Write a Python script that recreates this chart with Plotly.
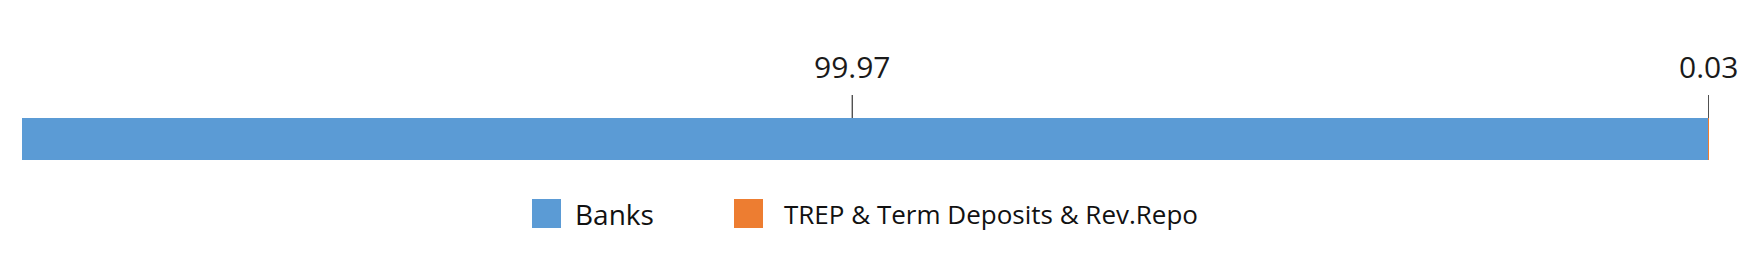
import plotly.graph_objects as go

# Data
categories = ["Banks", "TREP & Term Deposits & Rev.Repo"]
values = [99.97, 0.03]
colors = ["#5B9BD5", "#ED7D31"]
label_xshift = [-13, 0]
legend_font_sizes = [28, 26]

W, H = 1746, 260
ML, MR, MT, MB = 22, 37, 118, 100
PW = W - ML - MR
PH = H - MT - MB

def px_x(p):
    return (p - ML) / PW

def px_y(p):
    return (H - MB - p) / PH

fig = go.Figure()
for name, v, c in zip(categories, values, colors):
    fig.add_trace(go.Bar(
        x=[v], y=[""], orientation="h", name=name,
        marker=dict(color=c, line=dict(width=0)),
        showlegend=False, hoverinfo="x+name",
    ))

annotations = []
shapes = []
cum = 0.0
for v, sh in zip(values, label_xshift):
    mid = cum + v / 2
    cum += v
    annotations.append(dict(
        x=mid, xref="x", y=1, yref="paper", yanchor="bottom", xanchor="center",
        yshift=29, xshift=sh, text=f"{v:.2f}", showarrow=False,
        font=dict(family="Open Sans", size=30, color="#1a1a1a"),
    ))
    shapes.append(dict(
        type="line", xref="x", xsizemode="pixel", xanchor=mid, x0=sh, x1=sh,
        yref="paper", ysizemode="pixel", yanchor=1, y0=0, y1=23,
        line=dict(color="#333333", width=1.2),
    ))

# manual legend
legend_box_left = [532, 734]
legend_text_left = [573, 782]
box_size = 29
for name, c, bx, tx, fs in zip(categories, colors, legend_box_left, legend_text_left, legend_font_sizes):
    shapes.append(dict(
        type="rect", xref="paper", yref="paper",
        x0=px_x(bx), x1=px_x(bx + box_size),
        y0=px_y(228), y1=px_y(228 - box_size),
        fillcolor=c, line=dict(width=0),
    ))
    annotations.append(dict(
        x=px_x(tx), xref="paper", y=px_y(214), yref="paper",
        xanchor="left", yanchor="middle", text=name, showarrow=False,
        font=dict(family="Open Sans", size=fs, color="#111111"),
    ))

fig.update_layout(
    width=W, height=H, barmode="stack", bargap=0,
    margin=dict(l=ML, r=MR, t=MT, b=MB, pad=0),
    paper_bgcolor="white", plot_bgcolor="white",
    xaxis=dict(range=[0, sum(values)], visible=False, fixedrange=True),
    yaxis=dict(visible=False, range=[-0.5, 0.5], fixedrange=True),
    annotations=annotations, shapes=shapes, showlegend=False,
)

fig.write_html("out.html")
